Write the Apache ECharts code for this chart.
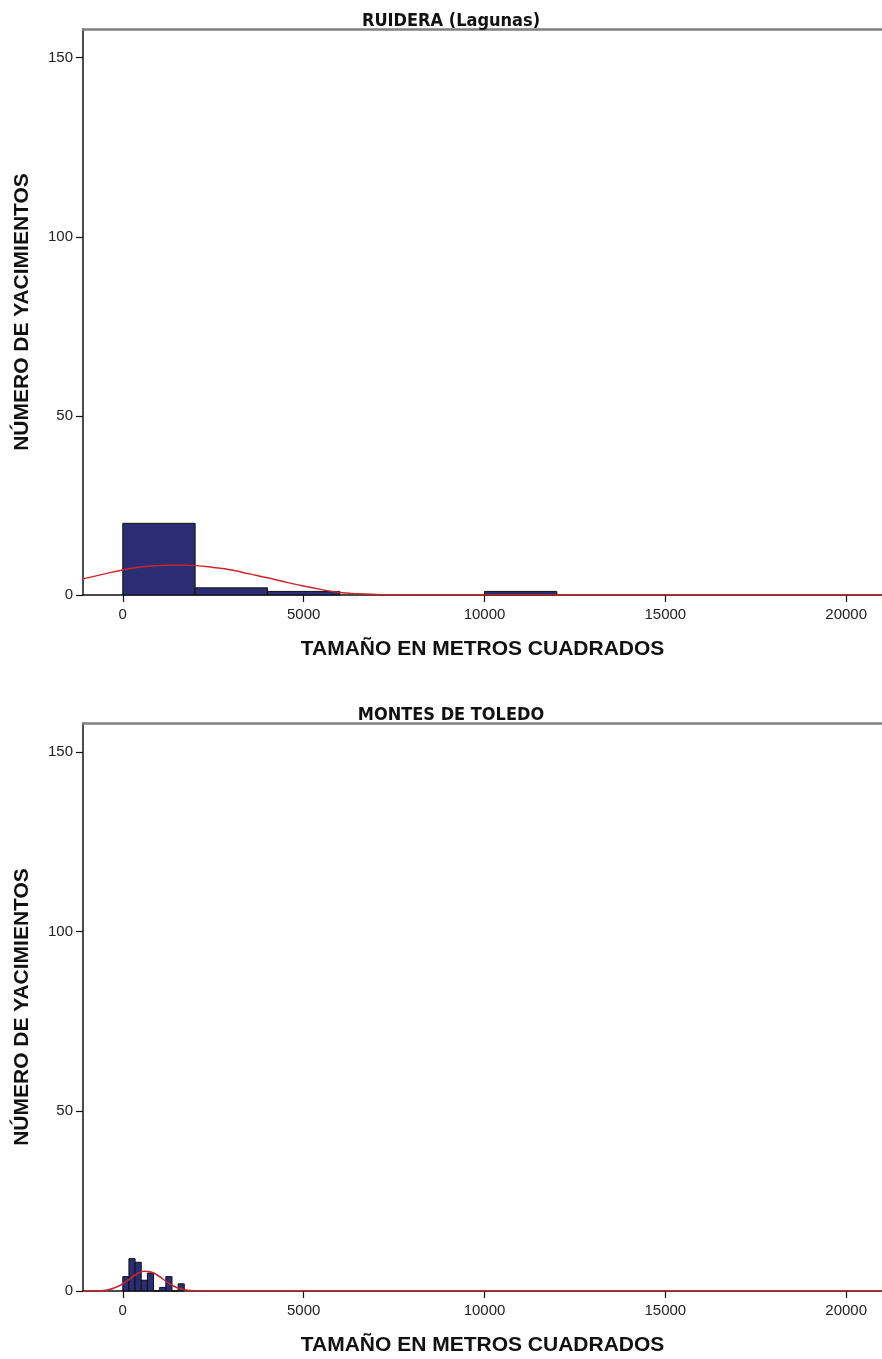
<!DOCTYPE html>
<html>
<head>
<meta charset="utf-8">
<script src="https://cdn.jsdelivr.net/npm/echarts@6/dist/echarts.min.js"></script>
<style>
  html, body { margin: 0; padding: 0; background: #fff; }
  #main { width: 882px; height: 1359px; }
</style>
</head>
<body>
<div id="main"></div>
<script>
// tick labels
var xTicks = [0, 5000, 10000, 15000, 20000];
var yTicks = [0, 50, 100, 150];

// RUIDERA (Lagunas) histogram
var ruideraBinStart = [0, 2000, 4000, 10000];
var ruideraBinEnd = [2000, 4000, 6000, 12000];
var ruideraCounts = [20, 2, 1, 1];
// normal curve
var ruideraCurveX = [-1100, -500, 0, 500, 1000, 1500, 2000, 2500, 3000, 3500, 4000, 4500, 5000, 5500, 6000, 6500, 7000, 7500, 8000, 9000, 21000];
var ruideraCurveY = [4.5, 5.9, 7.0, 7.8, 8.2, 8.35, 8.2, 7.7, 7.0, 5.9, 4.8, 3.6, 2.5, 1.5, 0.7, 0.35, 0.15, 0.05, 0.02, 0, 0];

// MONTES DE TOLEDO histogram
var toledoBinStart = [0, 170, 340, 510, 680, 850, 1020, 1190, 1360, 1530];
var toledoBinEnd = [170, 340, 510, 680, 850, 1020, 1190, 1360, 1530, 1700];
var toledoCounts = [4, 9, 8, 3, 5, 0, 1, 4, 0, 2];
var toledoCurveX = [-1100, -800, -600, -400, -200, 0, 200, 400, 600, 800, 1000, 1200, 1400, 1600, 1800, 2000, 2400, 21000];
var toledoCurveY = [0, 0.02, 0.1, 0.35, 1.0, 2.0, 3.4, 4.8, 5.5, 5.2, 4.1, 2.7, 1.4, 0.6, 0.2, 0.05, 0, 0];

var titles = ['RUIDERA (Lagunas)', 'MONTES DE TOLEDO'];
var xName = 'TAMAÑO EN METROS CUADRADOS';
var yName = 'NÚMERO DE YACIMIENTOS';

function zip(a, b, c) {
    return a.map(function (v, i) { return c ? [v, b[i], c[i]] : [v, b[i]]; });
}

function renderHist(params, api) {
    var p0 = api.coord([api.value(0), api.value(2)]);
    var p1 = api.coord([api.value(1), 0]);
    return {
        type: 'rect',
        shape: { x: p0[0], y: p0[1], width: p1[0] - p0[0], height: p1[1] - p0[1] },
        style: { fill: '#2b2e74', stroke: '#111', lineWidth: 1 }
    };
}

function plain(v) { return String(v); }

var tickFont = { fontFamily: 'Liberation Sans, Arial, sans-serif', fontSize: 15, color: '#222' };
var nameFont = { fontFamily: 'Liberation Sans, Arial, sans-serif', fontSize: 21, fontWeight: 'bold', color: '#111' };

var grids = [
    { left: 83, top: 29, right: 0, height: 566 },
    { left: 83, top: 723, right: 0, height: 568 }
];

var xAxes = [], yAxes = [];
[0, 1].forEach(function (g) {
    xAxes.push({
        type: 'value', gridIndex: g, min: -1100, max: 20990,
        splitLine: { show: false },
        axisLine: { show: true, onZero: false, lineStyle: { color: '#111', width: 1.5 } },
        axisTick: { show: true, customValues: xTicks, length: 7, lineStyle: { color: '#111', width: 1.2 } },
        axisLabel: Object.assign({ customValues: xTicks, margin: 12, formatter: plain }, tickFont),
        name: xName, nameLocation: 'middle', nameGap: 44, nameTextStyle: nameFont
    });
    // grey frame line along the top
    xAxes.push({
        type: 'value', gridIndex: g, position: 'top', min: -1100, max: 20990,
        splitLine: { show: false },
        axisLine: { show: true, onZero: false, lineStyle: { color: '#808080', width: 2.5 } },
        axisTick: { show: false }, axisLabel: { show: false }
    });
    yAxes.push({
        type: 'value', gridIndex: g, min: 0, max: 158,
        splitLine: { show: false },
        axisLine: { show: true, onZero: false, lineStyle: { color: '#111', width: 1.5 } },
        axisTick: { show: true, customValues: yTicks, length: 7, lineStyle: { color: '#111', width: 1.2 } },
        axisLabel: Object.assign({ customValues: yTicks, margin: 10, formatter: plain }, tickFont),
        name: yName, nameLocation: 'middle', nameGap: 50, nameTextStyle: nameFont
    });
});

var titleStyle = { fontFamily: 'Liberation Sans Narrow, DejaVu Sans Condensed, Arial, sans-serif', fontSize: 18, fontWeight: 'bold', color: '#111' };

var option = {
    animation: false,
    title: [
        { text: titles[0], left: 446, textAlign: 'center', top: 7, textStyle: titleStyle },
        { text: titles[1], left: 446, textAlign: 'center', top: 701, textStyle: titleStyle }
    ],
    grid: grids,
    xAxis: xAxes,
    yAxis: yAxes,
    series: [
        {
            type: 'custom', xAxisIndex: 0, yAxisIndex: 0,
            renderItem: renderHist, encode: { x: [0, 1], y: 2 },
            data: zip(ruideraBinStart, ruideraBinEnd, ruideraCounts)
        },
        {
            type: 'line', xAxisIndex: 0, yAxisIndex: 0, smooth: true, showSymbol: false,
            lineStyle: { color: '#cc2529', width: 1.5 },
            data: zip(ruideraCurveX, ruideraCurveY)
        },
        {
            type: 'custom', xAxisIndex: 2, yAxisIndex: 1,
            renderItem: renderHist, encode: { x: [0, 1], y: 2 },
            data: zip(toledoBinStart, toledoBinEnd, toledoCounts)
        },
        {
            type: 'line', xAxisIndex: 2, yAxisIndex: 1, smooth: true, showSymbol: false,
            lineStyle: { color: '#cc2529', width: 1.5 },
            data: zip(toledoCurveX, toledoCurveY)
        }
    ]
};

var myChart = echarts.init(document.getElementById('main'));
myChart.setOption(option);
</script>
</body>
</html>
